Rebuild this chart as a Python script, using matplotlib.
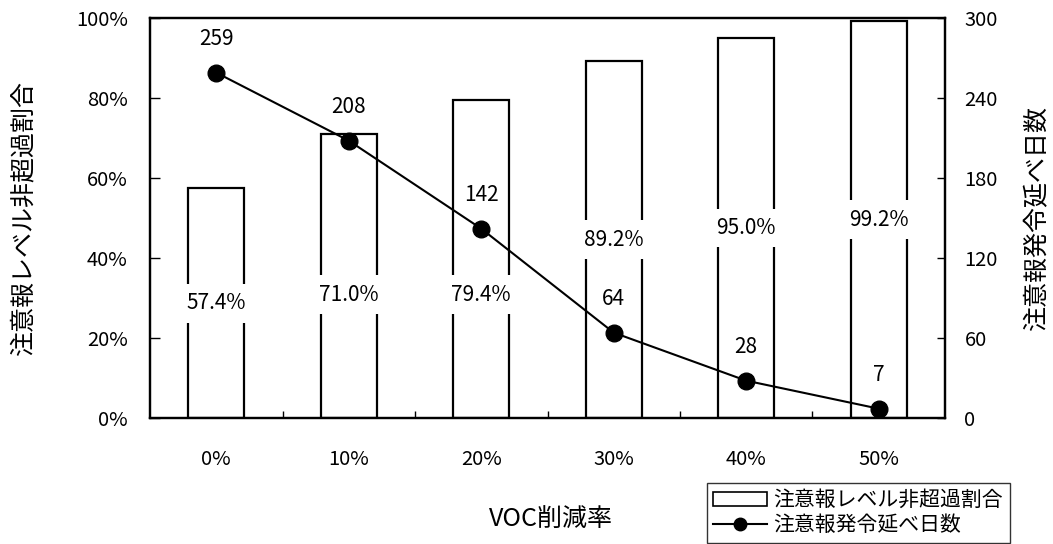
import matplotlib
matplotlib.use("Agg")
import matplotlib.pyplot as plt
from matplotlib.patches import Patch
from matplotlib.lines import Line2D
import numpy as np

plt.rcParams['font.family'] = ['Noto Sans CJK JP', 'DejaVu Sans']

# VOC reduction scenarios
categories = ['0%', '10%', '20%', '30%', '40%', '50%']
# share of days below the advisory level (%)
non_exceed_pct = [57.4, 71.0, 79.4, 89.2, 95.0, 99.2]
# total advisory issuance days
advisory_days = [259, 208, 142, 64, 28, 7]

left_ticks = [0, 20, 40, 60, 80, 100]
right_ticks = [0, 60, 120, 180, 240, 300]

fig = plt.figure(figsize=(10.53, 5.44), dpi=100)
ax = fig.add_axes([0.1425, 0.2316, 0.7549, 0.7353])
ax2 = ax.twinx()

x = np.arange(len(categories))
ax.bar(x, non_exceed_pct, width=0.42, facecolor='white', edgecolor='black',
       linewidth=1.6, zorder=2)

# percentage labels sit halfway up the bar, two are lowered to clear the line
label_y = [v / 2 for v in non_exceed_pct]
label_y[1] = 30.8
label_y[2] = 30.8
for xi, v, ly in zip(x, non_exceed_pct, label_y):
    ax.text(xi, ly, f'{v:.1f}%', ha='center', va='center', fontsize=15,
            zorder=3, bbox=dict(facecolor='white', edgecolor='none', pad=6))

ax.set_xlim(-0.5, len(categories) - 0.5)
ax.set_ylim(0, 100)
ax.set_yticks(left_ticks)
ax.set_yticklabels([f'{t}%' for t in left_ticks])
ax.set_xticks(x)
ax.set_xticklabels(categories)
ax.set_xticks(x[:-1] + 0.5, minor=True)
ax.tick_params(axis='x', which='major', length=0, pad=22, labelsize=14.5)
ax.tick_params(axis='x', which='minor', direction='in', length=5, width=1)
ax.tick_params(axis='y', direction='in', length=7, width=1, pad=16, labelsize=14.5)

ax2.plot(x, advisory_days, color='black', linewidth=1.5, marker='o',
         markersize=12, zorder=4)
for xi, d in zip(x, advisory_days):
    ax2.annotate(str(d), (xi, d), xytext=(0, 24), textcoords='offset points',
                 ha='center', va='center', fontsize=15)
ax2.set_ylim(0, 300)
ax2.set_yticks(right_ticks)
ax2.tick_params(axis='y', direction='in', length=6, width=1, pad=14, labelsize=14.5)

for a in (ax, ax2):
    for s in a.spines.values():
        s.set_linewidth(1.6)

ax.set_ylabel('注意報レベル非超過割合', fontsize=18)
ax.yaxis.set_label_coords(-0.143, 0.5)
ax2.set_ylabel('注意報発令延べ日数', fontsize=18, rotation=90)
ax2.yaxis.set_label_coords(1.100, 0.5)
ax.set_xlabel('VOC削減率', fontsize=18)
ax.xaxis.set_label_coords(0.504, -0.22)

handles = [
    Patch(facecolor='white', edgecolor='black', linewidth=1.2),
    Line2D([], [], color='black', linewidth=1.5, marker='o', markersize=9),
]
leg = fig.legend(handles, ['注意報レベル非超過割合', '注意報発令延べ日数'],
                 loc='upper left', bbox_to_anchor=(707 / 1053, 1 - 483 / 544),
                 fontsize=15, frameon=True, fancybox=False, handlelength=2.6,
                 handleheight=0.6, handletextpad=0.3, borderpad=0.3,
                 labelspacing=0.15, borderaxespad=0)
leg.get_frame().set_edgecolor('black')
leg.get_frame().set_linewidth(1.0)

fig.savefig('out.png', dpi=100)
